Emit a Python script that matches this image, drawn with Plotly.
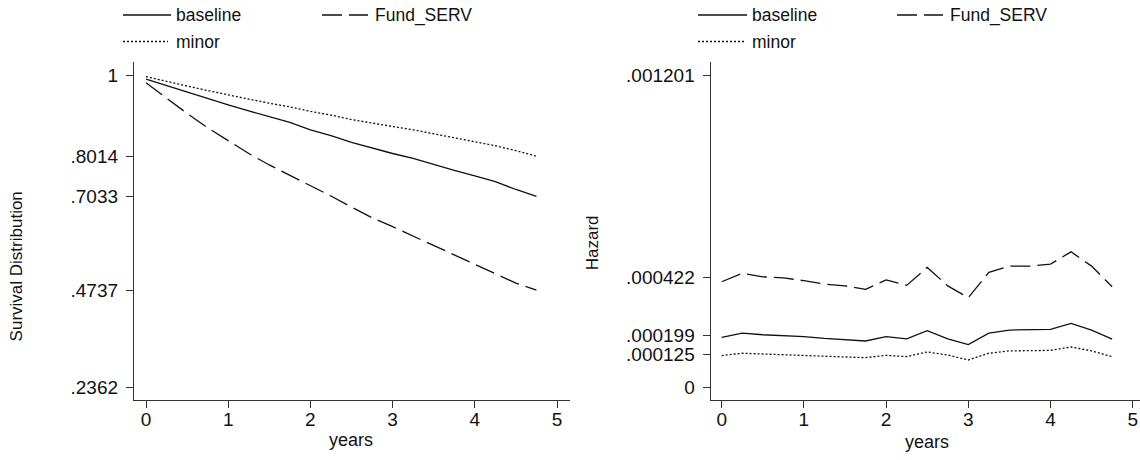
import plotly.graph_objects as go

# ---------------- data ----------------
years = [0, 0.25, 0.5, 0.75, 1, 1.25, 1.5, 1.75, 2, 2.25, 2.5, 2.75,
         3, 3.25, 3.5, 3.75, 4, 4.25, 4.5, 4.75]

surv_baseline = [0.990, 0.974, 0.958, 0.942, 0.927, 0.912, 0.898, 0.884, 0.866, 0.852,
                 0.835, 0.821, 0.808, 0.796, 0.781, 0.767, 0.753, 0.739, 0.720, 0.7033]
surv_fund = [0.981, 0.943, 0.906, 0.871, 0.839, 0.808, 0.780, 0.755, 0.730, 0.704,
             0.677, 0.651, 0.629, 0.606, 0.583, 0.560, 0.538, 0.514, 0.491, 0.4737]
surv_minor = [0.996, 0.984, 0.973, 0.962, 0.951, 0.941, 0.931, 0.922, 0.911, 0.902,
              0.891, 0.882, 0.874, 0.866, 0.856, 0.847, 0.837, 0.827, 0.815, 0.8014]

haz_baseline = [0.000192, 0.000208, 0.000202, 0.000198, 0.000195, 0.000188, 0.000183,
                0.000178, 0.000195, 0.000186, 0.000218, 0.000186, 0.000164, 0.000208,
                0.000220, 0.000222, 0.000223, 0.000246, 0.000220, 0.000185]
haz_fund = [0.000406, 0.000438, 0.000425, 0.000421, 0.000410, 0.000397, 0.000390,
            0.000377, 0.000413, 0.000392, 0.000461, 0.000390, 0.000345, 0.000442,
            0.000466, 0.000466, 0.000474, 0.000521, 0.000466, 0.000387]
haz_minor = [0.000122, 0.000131, 0.000128, 0.000125, 0.000123, 0.000120, 0.000118,
             0.000114, 0.000123, 0.000118, 0.000136, 0.000124, 0.000105, 0.000131,
             0.000140, 0.000141, 0.000142, 0.000155, 0.000140, 0.000118]

x_ticks = [0, 1, 2, 3, 4, 5]
surv_ticks = [0.2362, 0.4737, 0.7033, 0.8014, 1]
surv_ticktext = [".2362", ".4737", ".7033", ".8014", "1"]
haz_ticks = [0, 0.000125, 0.000199, 0.000422, 0.001201]
haz_ticktext = ["0", ".000125", ".000199", ".000422", ".001201"]

series_names = ["baseline", "Fund_SERV", "minor"]

# ---------------- style ----------------
W, H = 1140, 460
FONT = "Liberation Sans Narrow, Arial Narrow, Liberation Sans, Arial, sans-serif"
INK = "#111111"
AXC = "#333333"
dashes = {"baseline": "solid", "Fund_SERV": "20px,7px", "minor": "2px,2px"}
LW = 1.3

def px_x(p):
    return p / W

def px_y(p):
    return (H - p) / H

fig = go.Figure()

surv = {"baseline": surv_baseline, "Fund_SERV": surv_fund, "minor": surv_minor}
haz = {"baseline": haz_baseline, "Fund_SERV": haz_fund, "minor": haz_minor}

for name in series_names:
    fig.add_trace(go.Scatter(x=years, y=surv[name], mode="lines", name=name,
                             line=dict(color=INK, width=LW, dash=dashes[name]),
                             xaxis="x", yaxis="y", showlegend=False))
for name in series_names:
    fig.add_trace(go.Scatter(x=years, y=haz[name], mode="lines", name=name,
                             line=dict(color=INK, width=LW, dash=dashes[name]),
                             xaxis="x2", yaxis="y2", showlegend=False))

axis_common = dict(showgrid=False, zeroline=False, showline=True, linecolor=AXC,
                   linewidth=1.3, ticks="outside", ticklen=7, tickwidth=1.2,
                   tickcolor=AXC, tickfont=dict(family=FONT, size=19, color=INK))

ydom = [px_y(400), px_y(62)]

fig.update_layout(
    width=W, height=H,
    margin=dict(l=0, r=0, t=0, b=0),
    paper_bgcolor="white", plot_bgcolor="white",
    showlegend=False,
    xaxis=dict(domain=[px_x(134), px_x(570)], range=[-12 / 82.2, 424 / 82.2],
               tickvals=x_ticks, anchor="y", ticklabelstandoff=-5, **axis_common),
    yaxis=dict(domain=ydom, range=[0.2362 - 12.7 / 408.9, 1 + 13 / 408.9],
               tickvals=surv_ticks, ticktext=surv_ticktext, anchor="x",
               ticklabelstandoff=4, **axis_common),
    xaxis2=dict(domain=[px_x(710.7), 1.0], range=[-11 / 82.2, 418.3 / 82.2],
                tickvals=x_ticks, anchor="y2", ticklabelstandoff=-5, **axis_common),
    yaxis2=dict(domain=ydom, range=[-12.7 / 260033, 0.001201 + 13 / 260033],
                tickvals=haz_ticks, ticktext=haz_ticktext, anchor="x2",
                ticklabelstandoff=4, **axis_common),
)

# axis titles
titles = [
    ("Survival Distribution", 16.7, 266.7, -90, 17),
    ("Hazard", 593.3, 243, -90, 17),
    ("years", 351, 440, 0, 18),
    ("years", 927, 442, 0, 18),
]
for txt, x, y, ang, fs in titles:
    fig.add_annotation(text=txt, x=px_x(x), y=px_y(y), xref="paper", yref="paper",
                       showarrow=False, textangle=ang, xanchor="center", yanchor="middle",
                       font=dict(family=FONT, size=fs, color=INK))

# legends (one per panel), drawn as key samples + labels
legend_layout = [
    {"baseline": (123, 171, 174, 15), "Fund_SERV": (322, 368, 373, 15), "minor": (123, 168, 174, 41.5)},
    {"baseline": (698, 747, 750, 15), "Fund_SERV": (897, 943, 948, 15), "minor": (698, 745, 750, 41.5)},
]
for panel in legend_layout:
    for name in series_names:
        x0, x1, xt, yy = panel[name]
        fig.add_shape(type="line", xref="paper", yref="paper",
                      x0=px_x(x0), x1=px_x(x1), y0=px_y(yy), y1=px_y(yy),
                      line=dict(color=INK, width=LW, dash=dashes[name]))
        fig.add_annotation(text=name, x=px_x(xt), y=px_y(yy + 0.5), xref="paper", yref="paper",
                           showarrow=False, xanchor="left", yanchor="middle",
                           font=dict(family=FONT, size=17.5, color=INK))

fig.write_html("out.html")
